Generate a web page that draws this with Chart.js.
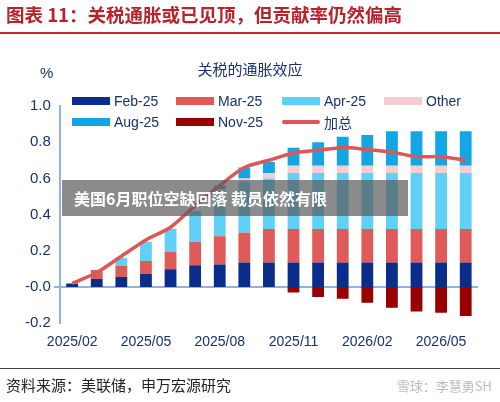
<!DOCTYPE html>
<html lang="zh">
<head>
<meta charset="UTF-8">
<script src="https://cdn.jsdelivr.net/npm/chart.js"></script>
<style>
  body { margin:0; width:500px; height:402px; background:#fff; font-family:"Liberation Sans","Noto Sans CJK SC",sans-serif; position:relative; overflow:hidden; }
  #head { position:absolute; left:6px; top:1px; font-size:18.5px; font-weight:bold; color:#b8222a; font-family:"Noto Sans CJK SC"; }
  #hline { position:absolute; left:0; right:0; top:32px; border-top:2px solid #c0262c; }
  #sub { position:absolute; left:0; width:500px; top:58px; text-align:center; font-size:15px; color:#16316e; font-family:"Noto Sans CJK SC"; }
  #pct { position:absolute; left:40px; top:64px; font-size:15px; color:#16316e; }
  .lg { position:absolute; font-size:14px; color:#16316e; display:flex; align-items:center; height:18px; font-family:"Liberation Sans","Noto Sans CJK SC"; }
  .lg i { display:block; width:38px; height:8px; margin-right:4px; }
  #ban { position:absolute; left:62px; top:180px; width:334px; height:36px; background:rgba(90,90,90,0.7); color:#fff; font-size:16px; font-weight:bold; line-height:36px; padding-left:12px; font-family:"Noto Sans CJK SC"; }
  #fline { position:absolute; left:0; right:0; top:368px; border-top:1px solid #444; }
  #foot { position:absolute; left:6px; top:374px; font-size:15px; color:#222; font-family:"Noto Sans CJK SC"; }
  #wm { position:absolute; right:8px; top:376px; font-size:13px; color:#bbb; font-family:"Noto Sans CJK SC"; }
</style>
</head>
<body>
<canvas id="c" width="500" height="402" style="position:absolute;left:0;top:0"></canvas>
<div id="head">图表 11：关税通胀或已见顶，但贡献率仍然偏高</div>
<div id="hline"></div>
<div id="pct">%</div>
<div id="sub">关税的通胀效应</div>
<div id="legend"></div>
<div id="ban">美国6月职位空缺回落 裁员依然有限</div>
<div id="fline"></div>
<div id="foot">资料来源：美联储，申万宏源研究</div>
<div id="wm">雪球：李慧勇SH</div>
<script>
const labels = ['2025/02','2025/03','2025/04','2025/05','2025/06','2025/07','2025/08','2025/09','2025/10','2025/11','2025/12','2026/01','2026/02','2026/03','2026/04','2026/05','2026/06'];
const feb25 = [0.02,0.044,0.055,0.073,0.098,0.12,0.125,0.135,0.135,0.135,0.135,0.135,0.135,0.135,0.135,0.135,0.135];
const mar25 = [0,0.05,0.061,0.071,0.097,0.13,0.155,0.165,0.185,0.185,0.185,0.185,0.185,0.185,0.185,0.185,0.185];
const apr25 = [0,0,0.045,0.106,0.127,0.17,0.25,0.28,0.28,0.31,0.31,0.31,0.31,0.31,0.31,0.31,0.31];
const other = [0,0,0,0,0,0,0.01,0.02,0.03,0.04,0.04,0.04,0.04,0.04,0.04,0.04,0.04];
const aug25 = [0,0,0,0,0,0,0.02,0.06,0.06,0.10,0.13,0.16,0.17,0.19,0.19,0.19,0.19];
const nov25 = [0,0,0,0,0,0,0,0,0,-0.03,-0.055,-0.065,-0.087,-0.114,-0.136,-0.142,-0.16];
const total = [0.02,0.08,0.17,0.26,0.33,0.45,0.56,0.66,0.70,0.74,0.755,0.77,0.76,0.745,0.72,0.72,0.70];

const C = { feb:'#0a2d8c', mar:'#e05a5a', apr:'#60d0f6', other:'#f6cdd0', aug:'#12a6e4', nov:'#990000', tot:'#e05555' };

const legendItems = [
  ['Feb-25',C.feb,72,92],['Mar-25',C.mar,176,92],['Apr-25',C.apr,282,92],['Other',C.other,384,92],
  ['Aug-25',C.aug,72,113],['Nov-25',C.nov,176,113],['加总',C.tot,282,113,true]
];
document.getElementById('legend').innerHTML = legendItems.map(([t,c,x,y,line]) =>
  `<div class="lg" style="left:${x}px;top:${y}px"><i style="background:${c};${line?'height:4px;border-radius:2px':''}"></i>${t}</div>`).join('');

const bar = (label, data, color) => ({ type:'bar', label, data, backgroundColor:color, stack:'s', barPercentage:0.6, categoryPercentage:0.8, order:2 });

new Chart(document.getElementById('c'), {
  data: {
    labels,
    datasets: [
      { type:'line', label:'加总', data:total, borderColor:C.tot, borderWidth:3.5, pointRadius:0, tension:0.3, order:1 },
      bar('Feb-25', feb25, C.feb),
      bar('Mar-25', mar25, C.mar),
      bar('Apr-25', apr25, C.apr),
      bar('Other', other, C.other),
      bar('Aug-25', aug25, C.aug),
      bar('Nov-25', nov25, C.nov)
    ]
  },
  options: {
    responsive:false, animation:false,
    layout: { padding: { top:106, bottom:48, right:22, left:22 } },
    plugins: { legend:{ display:false }, tooltip:{ enabled:false } },
    scales: {
      x: { stacked:true, grid:{ display:false }, border:{ display:false },
           ticks:{ color:'#16316e', font:{ size:14 }, maxRotation:0, autoSkip:false,
                   callback:(v,i)=> i%3===0 ? labels[i] : '' } },
      y: { stacked:true, min:-0.2, max:1.0,
           ticks:{ stepSize:0.2, color:'#16316e', font:{ size:15 }, callback:v=>v.toFixed(1) },
           border:{ color:'#8fb3dc', width:2 },
           grid:{ drawTicks:true, tickLength:6, lineWidth:2,
                  color: ctx => Math.abs(ctx.tick.value) < 1e-9 ? '#8fb3dc' : 'rgba(0,0,0,0)' } }
    }
  }
});
</script>
</body>
</html>
